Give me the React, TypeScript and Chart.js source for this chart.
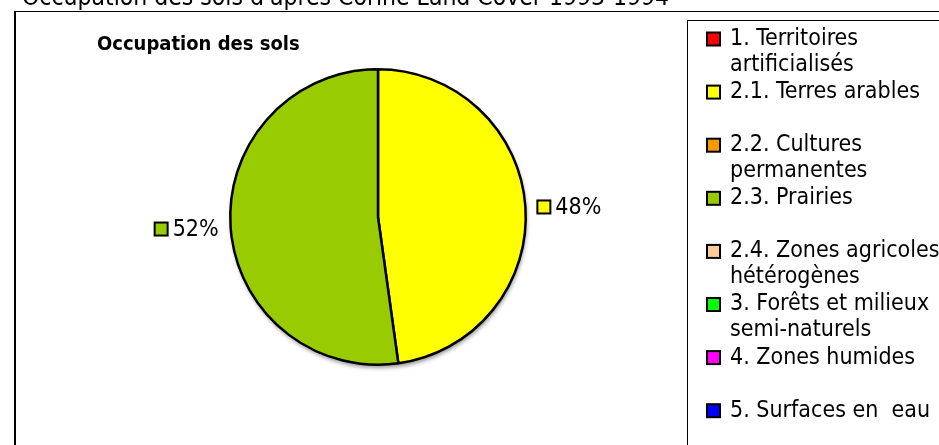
import React, { useEffect, useRef } from "react";
import { Chart, registerables } from "chart.js";

Chart.register(...registerables);

const pageTitle = "Occupation des sols d'après Corine Land Cover 1993-1994";
const chartTitle = "Occupation des sols";
const categories = [
  "1. Territoires\nartificialisés",
  "2.1. Terres arables",
  "2.2. Cultures\npermanentes",
  "2.3. Prairies",
  "2.4. Zones agricoles\nhétérogènes",
  "3. Forêts et milieux\nsemi-naturels",
  "4. Zones humides",
  "5. Surfaces en  eau",
];
const values = [0, 47.8, 0, 52.2, 0, 0, 0, 0];
const percentLabels = ["0%", "48%", "0%", "52%", "0%", "0%", "0%", "0%"];
const colors = [
  "#FF0000",
  "#FFFF00",
  "#FF9900",
  "#99CC00",
  "#FFCC99",
  "#00FF00",
  "#FF00FF",
  "#0000FF",
];

const FONT = '"DejaVu Sans Condensed", "DejaVu Sans", sans-serif';

function drawSwatch(ctx: CanvasRenderingContext2D, x: number, cy: number, color: string) {
  ctx.fillStyle = color;
  ctx.fillRect(x, cy - 6.5, 13, 13);
  ctx.strokeStyle = "#000";
  ctx.lineWidth = 2;
  ctx.strokeRect(x, cy - 6.5, 13, 13);
}

const decorPlugin = {
  id: "decor",
  beforeDraw(chart: any) {
    const ctx = chart.ctx as CanvasRenderingContext2D;
    ctx.save();
    ctx.fillStyle = "#fff";
    ctx.fillRect(0, 0, chart.width, chart.height);
    // page title (partly cut off at top)
    ctx.fillStyle = "#000";
    ctx.font = `24.5px ${FONT}`;
    ctx.textBaseline = "alphabetic";
    ctx.textAlign = "left";
    ctx.fillText(pageTitle, 22, 5);
    // outer frame
    ctx.fillRect(14, 11, chart.width - 14, 1);
    ctx.fillRect(14, 11, 2, chart.height - 11);
    // chart title
    ctx.font = `bold 20px ${FONT}`;
    ctx.textBaseline = "middle";
    ctx.fillText(chartTitle, 97, 45);
    // legend box
    ctx.fillRect(687, 20, chart.width - 687, 1);
    ctx.fillRect(687, 20, 1, chart.height - 20);
    ctx.restore();
  },
  beforeDatasetsDraw(chart: any) {
    const meta = chart.getDatasetMeta(0);
    const el = meta.data[0];
    if (!el) return;
    const { x, y, outerRadius } = el.getProps(["x", "y", "outerRadius"], true);
    const ctx = chart.ctx as CanvasRenderingContext2D;
    ctx.save();
    ctx.shadowColor = "rgba(0,0,0,0.45)";
    ctx.shadowBlur = 4;
    ctx.shadowOffsetX = 1;
    ctx.shadowOffsetY = 3;
    ctx.fillStyle = "#000";
    ctx.beginPath();
    ctx.arc(x, y, outerRadius, 0, Math.PI * 2);
    ctx.fill();
    ctx.restore();
  },
  afterDraw(chart: any) {
    const ctx = chart.ctx as CanvasRenderingContext2D;
    ctx.save();
    ctx.font = `23px ${FONT}`;
    ctx.textBaseline = "middle";
    // data labels
    const meta = chart.getDatasetMeta(0);
    meta.data.forEach((el: any, i: number) => {
      if (!(values[i] > 0)) return;
      const { x, y, startAngle, endAngle, outerRadius } = el.getProps(
        ["x", "y", "startAngle", "endAngle", "outerRadius"],
        true
      );
      const mid = (startAngle + endAngle) / 2;
      const r = outerRadius + 12;
      const px = x + r * Math.cos(mid);
      const py = y + r * Math.sin(mid);
      const txt = percentLabels[i];
      const tw = ctx.measureText(txt).width;
      let sx: number;
      let tx: number;
      if (Math.cos(mid) >= 0) {
        sx = px;
        tx = px + 18;
      } else {
        tx = px - tw;
        sx = tx - 18;
      }
      drawSwatch(ctx, sx, py + 1, colors[i]);
      ctx.fillStyle = "#000";
      ctx.textAlign = "left";
      ctx.fillText(txt, tx, py + 2);
    });
    // legend
    const lx = 707;
    const tx0 = 730;
    const y0 = 39;
    const step = 53.1;
    const lineH = 26;
    categories.forEach((label, i) => {
      const cy = y0 + i * step;
      drawSwatch(ctx, lx, cy, colors[i]);
      ctx.fillStyle = "#000";
      ctx.textAlign = "left";
      label.split("\n").forEach((ln, j) => {
        ctx.fillText(ln, tx0, cy + j * lineH);
      });
    });
    ctx.restore();
  },
};

export default function App() {
  const ref = useRef<HTMLCanvasElement | null>(null);
  useEffect(() => {
    if (!ref.current) return;
    const chart = new Chart(ref.current, {
      type: "pie",
      data: {
        labels: categories,
        datasets: [
          {
            data: values,
            backgroundColor: colors,
            borderColor: "#000",
            borderWidth: (c: any) => (values[c.dataIndex] > 0 ? 2.5 : 0),
          },
        ],
      },
      options: {
        responsive: false,
        maintainAspectRatio: false,
        devicePixelRatio: 1,
        animation: false,
        layout: { padding: { left: 229, right: 412, top: 68, bottom: 79 } },
        plugins: {
          legend: { display: false },
          tooltip: { enabled: false },
          title: { display: false },
        },
      },
      plugins: [decorPlugin],
    } as any);
    return () => chart.destroy();
  }, []);
  return (
    <div style={{ position: "fixed", left: 0, top: 0, width: 939, height: 445 }}>
      <canvas ref={ref} width={939} height={445} style={{ width: 939, height: 445, display: "block" }} />
    </div>
  );
}
